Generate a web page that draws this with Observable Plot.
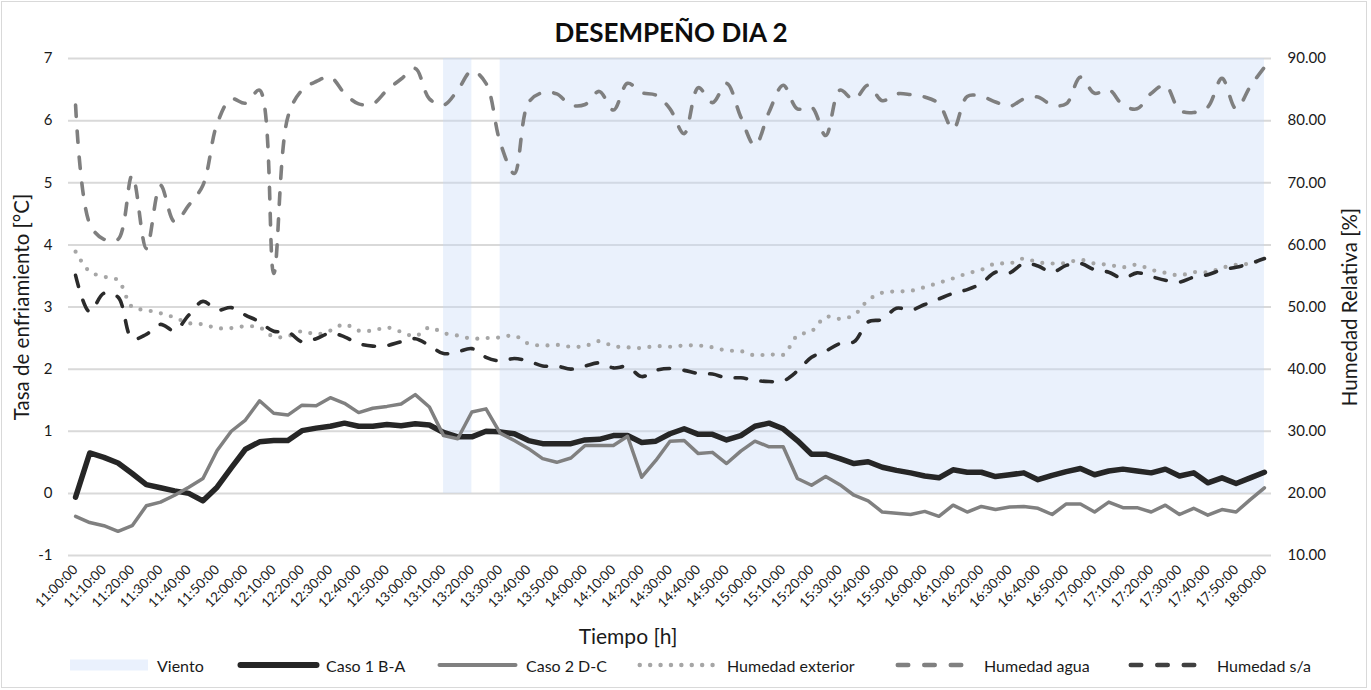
<!DOCTYPE html>
<html><head><meta charset="utf-8">
<script src="https://cdn.jsdelivr.net/npm/d3@7"></script>
<script src="https://cdn.jsdelivr.net/npm/@observablehq/plot@0.6"></script>
<style>
html,body{margin:0;padding:0;background:#fff;width:1371px;height:690px;overflow:hidden;font-family:Lato,"Open Sans",sans-serif;color:#1a1a1a}
#frame{position:absolute;left:1px;top:1px;width:1364px;height:685px;border:1px solid #d9d9d9;box-sizing:content-box}
#title{position:absolute;left:0;width:1342px;top:17px;line-height:30px;text-align:center;font-weight:bold;font-size:26px;color:#0d0d0d}
#chart{position:absolute;left:0;top:45px}
.leg{position:absolute;top:652px;height:26px;display:flex;align-items:center;font-size:16px;white-space:nowrap;color:#1a1a1a}
.leg svg{display:block}
</style></head><body>
<div id="frame"></div>
<div id="title">DESEMPEÑO DIA 2</div>
<div id="chart"></div>
<div id="legend"></div>
<script>
const tiempos = [
"11:00:00","11:05:00","11:10:00","11:15:00","11:20:00","11:25:00","11:30:00","11:35:00","11:40:00","11:45:00","11:50:00","11:55:00",
"12:00:00","12:05:00","12:10:00","12:15:00","12:20:00","12:25:00","12:30:00","12:35:00","12:40:00","12:45:00","12:50:00","12:55:00",
"13:00:00","13:05:00","13:10:00","13:15:00","13:20:00","13:25:00","13:30:00","13:35:00","13:40:00","13:45:00","13:50:00","13:55:00",
"14:00:00","14:05:00","14:10:00","14:15:00","14:20:00","14:25:00","14:30:00","14:35:00","14:40:00","14:45:00","14:50:00","14:55:00",
"15:00:00","15:05:00","15:10:00","15:15:00","15:20:00","15:25:00","15:30:00","15:35:00","15:40:00","15:45:00","15:50:00","15:55:00",
"16:00:00","16:05:00","16:10:00","16:15:00","16:20:00","16:25:00","16:30:00","16:35:00","16:40:00","16:45:00","16:50:00","16:55:00",
"17:00:00","17:05:00","17:10:00","17:15:00","17:20:00","17:25:00","17:30:00","17:35:00","17:40:00","17:45:00","17:50:00","17:55:00",
"18:00:00"];

// Viento (1 = con viento)
const viento = [
0,0,0,0,0,0,0,0,0,0, 0,0,0,0,0,0,0,0,0,0, 0,0,0,0,0,0,1,1,1,0,
1,1,1,1,1,1,1,1,1,1, 1,1,1,1,1,1,1,1,1,1, 1,1,1,1,1,1,1,1,1,1,
1,1,1,1,1,1,1,1,1,1, 1,1,1,1,1,1,1,1,1,1, 1,1,1,1,1];

// Tasa de enfriamiento [°C]
const caso1 = [
-0.06,0.65,0.58,0.49,0.32,0.14,0.09,0.04,0.00,-0.12,
0.10,0.41,0.71,0.83,0.85,0.85,1.01,1.05,1.08,1.13,
1.08,1.08,1.11,1.09,1.12,1.10,0.98,0.91,0.91,1.00,
0.99,0.96,0.85,0.80,0.80,0.80,0.86,0.87,0.93,0.93,
0.82,0.84,0.96,1.04,0.95,0.95,0.86,0.93,1.08,1.13,
1.04,0.85,0.63,0.63,0.56,0.48,0.51,0.42,0.37,0.33,
0.28,0.25,0.38,0.34,0.34,0.27,0.30,0.33,0.22,0.29,
0.35,0.40,0.30,0.36,0.39,0.36,0.33,0.39,0.28,0.33,
0.17,0.25,0.16,0.25,0.34];
const caso2 = [
-0.37,-0.47,-0.52,-0.61,-0.52,-0.20,-0.14,-0.03,0.10,0.24,
0.69,1.00,1.18,1.49,1.29,1.26,1.42,1.41,1.54,1.45,
1.30,1.37,1.40,1.44,1.59,1.39,0.93,0.88,1.31,1.36,
0.97,0.85,0.72,0.56,0.50,0.57,0.77,0.77,0.77,0.92,
0.26,0.53,0.84,0.85,0.64,0.66,0.48,0.68,0.84,0.75,
0.75,0.24,0.13,0.27,0.14,-0.03,-0.12,-0.30,-0.32,-0.34,
-0.29,-0.37,-0.19,-0.30,-0.21,-0.26,-0.22,-0.21,-0.24,-0.34,
-0.17,-0.17,-0.30,-0.14,-0.23,-0.23,-0.30,-0.19,-0.34,-0.24,
-0.35,-0.26,-0.30,-0.10,0.09];

// Humedad relativa [%]
const humExterior = [
58.9,55.7,54.9,54.3,50.0,49.5,49.0,48.3,47.4,47.2,
46.6,46.6,46.9,46.7,45.2,45.3,46.1,45.6,46.2,47.2,
46.2,46.2,46.7,46.0,45.3,46.7,45.8,45.4,44.9,45.0,
45.1,45.4,44.1,43.8,43.9,43.6,43.7,44.5,43.7,43.5,
43.4,43.7,43.6,43.8,43.8,43.5,43.0,42.9,42.2,42.4,
42.3,45.4,46.1,48.4,48.1,48.7,51.1,52.3,52.5,52.6,
53.2,53.9,54.6,55.4,56.0,57.0,57.0,57.8,57.2,57.0,
57.1,57.6,57.0,56.8,56.4,56.8,56.0,55.5,55.1,55.6,
55.6,56.3,56.8,57.0,57.8];
const humAgua = [
82.5,63.4,60.9,60.9,71.2,59.4,69.6,63.7,66.4,69.6,
79.5,83.5,82.8,84.9,55.4,80.6,84.9,86.3,87.0,84.4,
82.7,82.7,84.9,86.7,88.4,83.5,82.5,84.9,88.0,86.0,
76.5,71.5,82.9,84.5,84.3,82.5,82.6,84.7,81.7,86.0,
84.5,84.1,81.9,77.9,85.3,82.9,86.0,80.6,76.0,81.4,
85.7,81.9,82.2,77.6,84.9,83.4,85.7,83.2,84.3,84.2,
83.8,82.7,78.6,83.9,83.9,83.0,82.3,83.5,83.8,82.5,
82.7,87.0,84.4,85.0,82.5,81.9,84.4,85.7,81.7,81.3,
82.2,86.8,81.9,85.5,88.6];
const humSA = [
55.1,49.2,52.2,51.6,44.9,45.6,47.2,46.2,48.7,50.9,
49.5,49.9,48.7,47.6,46.1,46.0,44.4,44.9,45.8,45.2,
44.1,43.7,43.8,44.4,44.9,43.8,42.5,42.8,43.3,41.9,
41.3,41.7,41.3,40.5,40.5,40.0,40.5,41.0,40.2,40.4,
38.8,39.8,40.1,39.8,39.3,39.2,38.6,38.6,38.2,38.0,
38.1,39.7,41.9,42.9,44.1,44.4,47.6,48.0,49.8,49.5,
50.4,51.3,52.2,52.8,53.8,55.6,55.5,57.0,56.6,55.6,
56.7,57.0,56.0,55.6,54.6,55.5,54.9,54.3,54.0,54.8,
55.2,56.0,56.4,57.0,57.8];

const ticksIzq = [-1,0,1,2,3,4,5,6,7];
const ticksDer = [10,20,30,40,50,60,70,80,90];
const etiquetasX = tiempos.filter((d,i) => i % 2 === 0);

// humedad (eje derecho) -> eje izquierdo
const h2y = h => (h - 20) / 10;
const y2h = y => y * 10 + 20;

const datos = tiempos.map((t,i) => ({t, viento: viento[i], c1: caso1[i], c2: caso2[i], he: humExterior[i], ha: humAgua[i], hs: humSA[i]}));
const yMax = ticksIzq[ticksIzq.length-1];

const chart = Plot.plot({
  width: 1371, height: 605,
  marginTop: 13, marginBottom: 95, marginLeft: 68, marginRight: 100,
  style: {fontFamily: "Lato, 'Open Sans', sans-serif", fontSize: "15px", color: "#1a1a1a", background: "transparent", overflow: "visible"},
  x: {type: "point", domain: tiempos, padding: 0.5, round: false},
  y: {domain: [ticksIzq[0], yMax]},
  marks: [
    Plot.ruleY(ticksIzq, {stroke: "#d9d9d9", strokeWidth: 2}),
    Plot.areaY(datos, {x: "t", y1: 0, y2: d => d.viento ? yMax : NaN, fill: "#c5d9f8", fillOpacity: 0.36}),
    Plot.line(datos, {x: "t", y: "c1", stroke: "#262626", strokeWidth: 5.5, strokeLinejoin: "round"}),
    Plot.line(datos, {x: "t", y: "c2", stroke: "#808080", strokeWidth: 3.5, strokeLinejoin: "round"}),
    Plot.line(datos, {x: "t", y: d => h2y(d.he), stroke: "#a6a6a6", strokeWidth: 4.2, strokeDasharray: "0,10.4", strokeLinecap: "round", curve: "catmull-rom"}),
    Plot.line(datos, {x: "t", y: d => h2y(d.ha), stroke: "#7f7f7f", strokeWidth: 3.6, strokeDasharray: "11.5,14.5", strokeLinecap: "round", curve: "catmull-rom"}),
    Plot.line(datos, {x: "t", y: d => h2y(d.hs), stroke: "#2b2b2b", strokeWidth: 3.6, strokeDasharray: "11.5,14.5", strokeLinecap: "round", curve: "catmull-rom"}),
    Plot.axisY({anchor: "left", ticks: ticksIzq, tickFormat: d => String(d), tickSize: 0, tickPadding: 16, fontSize: 15, label: null}),
    Plot.axisY({anchor: "right", ticks: ticksDer.map(h2y), tickFormat: d => y2h(d).toFixed(2), tickSize: 0, tickPadding: 16, fontSize: 15, label: null}),
    Plot.axisX({ticks: etiquetasX, tickRotate: -45, textAnchor: "end", tickSize: 0, tickPadding: 12, fontSize: 13.5, label: null}),
    Plot.text(["Tasa de enfriamiento [°C]"], {text: d => d, frameAnchor: "left", textAnchor: "middle", lineAnchor: "middle", dx: -46, rotate: -90, fontSize: 20.5}),
    Plot.text(["Humedad Relativa [%]"], {text: d => d, frameAnchor: "right", textAnchor: "middle", lineAnchor: "middle", dx: 79, rotate: -90, fontSize: 20.5}),
    Plot.text(["Tiempo [h]"], {text: d => d, frameAnchor: "bottom", textAnchor: "middle", lineAnchor: "middle", dx: -42, dy: 82, fontSize: 21})
  ]
});
document.getElementById("chart").appendChild(chart);

// Leyenda
const leyenda = [
  {name: "Viento", left: 70, w: 78, gap: 9, kind: "rect", color: "#eaf1fd"},
  {name: "Caso 1 B-A", left: 237, w: 83, gap: 6, kind: "line", color: "#262626", sw: 6, dash: null},
  {name: "Caso 2 D-C", left: 437, w: 81, gap: 8, kind: "line", color: "#808080", sw: 4, dash: null},
  {name: "Humedad exterior", left: 637, w: 82, gap: 8, kind: "line", color: "#a6a6a6", sw: 4.5, dash: "0,10.4"},
  {name: "Humedad agua", left: 895, w: 70, gap: 19, kind: "line", color: "#808080", sw: 4.5, dash: "10.5,16"},
  {name: "Humedad s/a", left: 1128, w: 70, gap: 19, kind: "line", color: "#404040", sw: 4.5, dash: "10.5,16"}
];
const legEl = document.getElementById("legend");
for (const it of leyenda) {
  const div = document.createElement("div");
  div.className = "leg";
  div.style.left = it.left + "px";
  let sw;
  if (it.kind === "rect") {
    sw = `<svg width="${it.w}" height="26"><rect x="0" y="7.5" width="${it.w}" height="11" fill="${it.color}"/></svg>`;
  } else {
    const pad = it.sw / 2 + 0.5;
    sw = `<svg width="${it.w}" height="26"><line x1="${pad}" x2="${it.w - pad}" y1="13" y2="13" stroke="${it.color}" stroke-width="${it.sw}" stroke-linecap="round" ${it.dash ? `stroke-dasharray="${it.dash}"` : ""}/></svg>`;
  }
  div.innerHTML = sw + `<span style="margin-left:${it.gap}px">${it.name}</span>`;
  legEl.appendChild(div);
}
</script>
</body></html>
